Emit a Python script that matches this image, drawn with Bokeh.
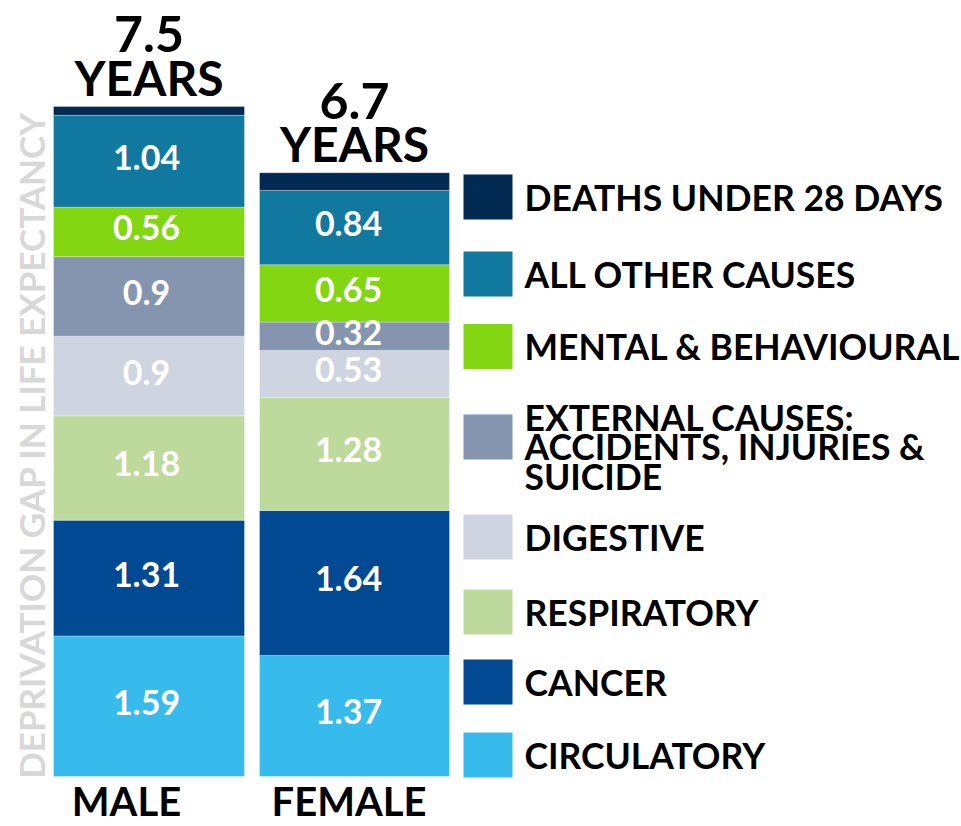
import numpy as np
from bokeh.plotting import figure
from bokeh.models import ColumnDataSource, Range1d
from bokeh.core.properties import value
from bokeh.embed import file_html
from bokeh.resources import INLINE

# ---------------- data ----------------
groups = ["MALE", "FEMALE"]
totals = ["7.5", "6.7"]
causes = ["Circulatory", "Cancer", "Respiratory", "Digestive",
          "External causes", "Mental & behavioural", "All other causes",
          "Deaths under 28 days"]
male = [1.59, 1.31, 1.18, 0.90, 0.90, 0.56, 1.04, 0.10]
female = [1.37, 1.64, 1.28, 0.53, 0.32, 0.65, 0.84, 0.20]
value_text_male = ["1.59", "1.31", "1.18", "0.9", "0.9", "0.56", "1.04", ""]
value_text_female = ["1.37", "1.64", "1.28", "0.53", "0.32", "0.65", "0.84", ""]
colors = ["#37bbec", "#014a93", "#bed99c", "#ced5e0",
          "#8595b0", "#83d612", "#11789f", "#022a53"]
legend_labels = ["CIRCULATORY", "CANCER", "RESPIRATORY", "DIGESTIVE",
                 "EXTERNAL CAUSES:\nACCIDENTS, INJURIES &\nSUICIDE",
                 "MENTAL & BEHAVIOURAL", "ALL OTHER CAUSES",
                 "DEATHS UNDER 28 DAYS"]
y_title = "DEPRIVATION GAP IN LIFE EXPECTANCY"

# ---------------- layout ----------------
W, H = 961, 826
PX = 88.4            # pixels per year
BASE = 776           # page y of the bars' base


def yd(page_y):
    return (BASE - page_y) / PX


FONT = value("Lato")

p = figure(width=W, height=H, output_backend="svg", toolbar_location=None,
           x_range=Range1d(0, W), y_range=Range1d(yd(H), yd(0)),
           min_border=0, outline_line_color=None)
p.axis.visible = False
p.grid.visible = False
p.background_fill_color = "white"
p.border_fill_color = "white"

bar_x = [148.5, 354]
bar_w = [191, 190]
label_x = [146, 348]
series = [male, female]
series_text = [value_text_male, value_text_female]

for gi in range(2):
    vals = np.array(series[gi])
    tops = np.cumsum(vals)
    bottoms = tops - vals
    src = ColumnDataSource(dict(
        x=[bar_x[gi]] * len(vals), bottom=bottoms, top=tops, color=colors,
        mid=(bottoms + tops) / 2 + 4 / PX, lx=[label_x[gi]] * len(vals),
        txt=series_text[gi]))
    p.vbar(x="x", width=bar_w[gi], bottom="bottom", top="top",
           fill_color="color", line_color="white", line_alpha=0.3,
           line_width=1, source=src)
    p.text(x="lx", y="mid", text="txt", source=src, text_color="white",
           text_font=FONT, text_font_style="bold", text_font_size="34px",
           text_align="center", text_baseline="middle")
    total = tops[-1]
    p.text(x=[bar_x[gi]], y=[total + 29 / PX], text=["YEARS"],
           text_color="black", text_font=FONT, text_font_style="bold",
           text_font_size="48px", text_align="center",
           text_baseline="middle")
    p.text(x=[bar_x[gi]], y=[total + 72 / PX], text=[totals[gi]],
           text_color="black", text_font=FONT, text_font_style="bold",
           text_font_size="50px", text_align="center",
           text_baseline="middle")

# group labels below bars
p.text(x=[126, 348.5], y=[yd(800), yd(800)], text=groups,
       text_color="black", text_font=FONT, text_font_style="bold",
       text_font_size="40px", text_align="center", text_baseline="middle")

# y title
p.text(x=[30.5], y=[yd(445)], text=[y_title], angle=np.pi / 2,
       text_color="#d8d8d8", text_font=FONT, text_font_style="bold",
       text_font_size="35px", text_align="center", text_baseline="middle")

# legend (drawn bottom to top, matching stacking order)
sq_centers = [754.5, 681.5, 611.5, 536.5, 436.5, 346, 273.5, 196.5]
p.rect(x=[487.5] * 8, y=[yd(c) for c in sq_centers], width=49, height=45,
       width_units="screen", height_units="screen", fill_color=colors,
       line_color=None)
lx, ly, lt = [], [], []
for c, lab in zip(sq_centers, legend_labels):
    lines = lab.split("\n")
    if len(lines) == 1:
        lx.append(524); ly.append(yd(c)); lt.append(lab)
    else:
        for k, ln in enumerate(lines):
            lx.append(524); ly.append(yd(c - 20 + 29.5 * k)); lt.append(ln)
p.text(x=lx, y=ly, text=lt, text_color="black", text_font=FONT,
       text_font_style="bold", text_font_size="35.5px", text_align="left",
       text_baseline="middle")

open("out.html", "w").write(file_html(p, INLINE))
